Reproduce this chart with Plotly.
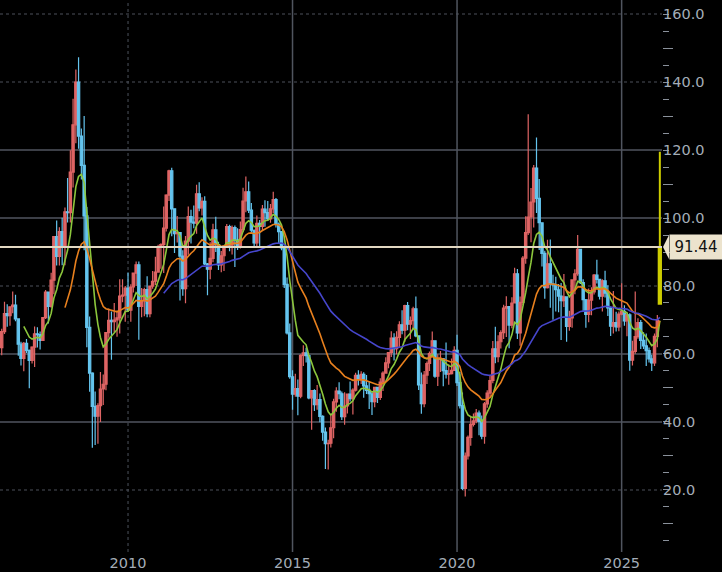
import pandas as pd
import plotly.graph_objects as go

# ---------------- data (monthly candles, Mar 2006 - Mar 2026) ----------------
start_month = "2006-03-01"

opens = [
    61.9, 66.6, 71.9, 71.3, 73.9, 74.4, 70.3, 62.9, 58.7, 63.1,
    61.05, 58.1, 62.0, 65.9, 65.7, 64.0, 70.7, 78.2, 74.0, 81.7, 94.5, 88.7,
    96.0, 91.75, 101.8, 101.6, 113.5, 127.4, 140.0, 124.1, 115.5, 100.6, 67.8, 54.4,
    44.6, 41.7, 44.8, 49.7, 51.1, 66.3, 69.9, 69.5, 70.0, 70.6, 77.0, 77.3,
    79.4, 72.9, 79.7, 83.8, 86.2, 74.0, 75.6, 78.95, 71.9, 79.97, 81.4, 84.1,
    91.4, 92.2, 97.0, 106.7, 113.9, 102.7, 95.4, 95.7, 88.8, 79.2, 93.2, 100.4,
    98.8, 98.5, 107.1, 103.0, 104.9, 86.5, 84.96, 88.1, 96.5, 92.2, 86.2, 88.9,
    91.8, 97.5, 92.05, 97.2, 93.5, 91.97, 96.6, 105.0, 107.7, 102.3, 96.4, 92.7,
    98.4, 97.5, 102.6, 101.6, 99.7, 102.7, 105.4, 98.2, 96.0, 91.2, 80.5, 66.2,
    53.3, 48.2, 49.8, 47.6, 59.6, 60.3, 59.5, 47.1, 49.2, 45.1, 46.6, 41.65,
    37.04, 33.6, 33.75, 38.3, 45.9, 49.1, 48.3, 41.6, 44.7, 48.2, 46.9, 49.4,
    53.7, 52.8, 54.0, 50.6, 49.3, 48.3, 46.0, 50.2, 47.2, 51.7, 54.4, 57.4,
    60.4, 64.7, 61.6, 64.9, 68.6, 67.0, 74.2, 68.8, 69.8, 73.25, 65.3, 50.9,
    45.4, 53.8, 57.2, 60.1, 63.9, 53.5, 58.5, 58.6, 55.1, 54.1, 54.2, 55.2,
    61.1, 51.6, 44.8, 20.5, 30.0, 35.5, 39.3, 40.3, 42.6, 40.2, 35.8, 45.3,
    48.5, 52.2, 61.5, 59.2, 63.6, 66.3, 73.5, 73.95, 68.5, 75.0, 83.6, 66.2,
    75.2, 88.2, 95.7, 100.3, 104.7, 114.7, 105.8, 98.6, 89.6, 79.5, 86.5, 80.6,
    80.3, 78.9, 77.05, 75.7, 76.8, 68.1, 70.6, 81.8, 83.6, 90.8, 81.0, 75.96,
    71.65, 75.85, 78.26, 83.17, 81.93, 76.99, 81.54, 77.91, 73.55, 68.17, 69.26, 68.0,
    71.72, 72.53, 69.76, 71.48, 58.21, 60.79, 65.11, 69.26, 64.01, 62.37, 60.98, 58.55,
    57.4, 65.2, 74.8,
]
highs = [
    67.4, 75.4, 74.6, 74.0, 78.4, 77.4, 70.5, 63.6, 63.5, 64.4,
    61.3, 62.3, 68.1, 67.9, 66.6, 70.8, 78.8, 78.3, 83.9, 94.7, 99.3, 97.3,
    100.1, 103.1, 111.8, 119.9, 135.1, 143.7, 147.3, 126.3, 130.0, 103.2, 71.0, 54.6,
    49.0, 45.5, 54.7, 54.0, 66.5, 73.4, 72.5, 75.0, 72.8, 82.0, 82.0, 80.0,
    83.95, 80.5, 83.9, 87.2, 87.2, 79.4, 79.5, 82.9, 80.1, 84.4, 88.6, 92.1,
    92.6, 103.4, 106.95, 114.2, 114.8, 102.7, 100.6, 95.7, 90.5, 94.7, 103.4, 102.4,
    103.7, 109.8, 110.55, 106.1, 106.4, 86.8, 92.9, 98.3, 100.4, 93.0, 90.3, 92.0,
    98.2, 98.0, 97.8, 97.8, 97.0, 99.0, 108.9, 112.2, 110.7, 104.4, 96.6, 100.75,
    99.4, 103.8, 105.2, 104.99, 104.1, 107.7, 105.9, 98.7, 96.0, 91.6, 82.5, 69.0,
    55.2, 54.2, 52.5, 59.9, 62.6, 61.8, 59.7, 49.3, 49.6, 50.9, 48.4, 42.0,
    38.4, 34.8, 41.9, 46.8, 50.2, 51.7, 49.0, 48.75, 48.4, 51.9, 49.9, 54.5,
    55.2, 54.9, 54.6, 53.8, 52.0, 49.0, 50.4, 50.4, 52.9, 54.9, 59.05, 60.5,
    66.7, 66.1, 66.7, 69.6, 72.9, 74.5, 75.3, 71.0, 73.9, 76.9, 65.4, 54.55,
    55.0, 57.8, 60.7, 66.6, 63.9, 59.9, 60.9, 58.8, 63.4, 57.0, 58.7, 62.3,
    65.65, 54.7, 48.7, 31.0, 36.0, 41.6, 42.5, 43.8, 43.4, 41.9, 45.9, 49.3,
    53.9, 63.8, 67.98, 65.5, 67.0, 74.45, 76.98, 74.0, 76.7, 85.4, 84.97, 76.9,
    88.8, 100.5, 130.5, 108.8, 115.6, 123.7, 111.5, 98.7, 90.4, 93.6, 93.7, 83.3,
    82.7, 80.6, 80.9, 83.5, 77.0, 72.7, 82.0, 84.9, 95.0, 90.9, 82.0, 76.2,
    79.3, 79.6, 83.5, 87.7, 82.1, 82.0, 84.5, 80.2, 74.0, 78.5, 72.4, 72.5,
    80.8, 74.3, 71.9, 72.0, 63.9, 78.4, 70.5, 70.0, 66.4, 66.0, 61.9, 59.8,
    66.0, 71.5, 119.5,
]
lows = [
    59.6, 65.9, 68.0, 68.3, 72.0, 69.6, 59.5, 56.6, 54.9, 60.3,
    49.9, 57.2, 56.2, 61.9, 61.3, 64.0, 70.3, 69.0, 73.6, 77.6, 86.0, 86.0,
    86.1, 86.1, 98.7, 98.65, 109.0, 122.0, 120.4, 111.3, 90.5, 62.0, 48.9, 32.4,
    33.2, 33.6, 40.0, 45.0, 49.3, 64.8, 58.3, 66.4, 65.1, 66.0, 75.2, 69.5,
    72.4, 69.5, 78.1, 80.0, 64.2, 70.8, 71.1, 70.8, 70.8, 79.2, 80.3, 84.0,
    85.1, 83.85, 96.0, 105.0, 94.6, 89.7, 92.8, 75.7, 77.1, 74.95, 89.2, 92.5,
    97.0, 95.4, 102.0, 100.7, 86.2, 77.3, 82.0, 87.0, 90.0, 84.7, 84.05, 84.4,
    91.3, 90.2, 89.3, 85.6, 90.6, 91.0, 95.9, 101.7, 101.5, 95.8, 91.8, 91.8,
    91.2, 96.2, 97.4, 99.2, 98.6, 101.5, 97.2, 92.5, 90.5, 79.4, 65.7, 52.7,
    43.6, 47.4, 42.0, 47.0, 56.5, 57.5, 46.7, 37.75, 43.2, 43.6, 39.9, 34.5,
    26.2, 26.05, 32.5, 35.2, 43.0, 46.7, 40.6, 39.2, 42.5, 46.0, 42.2, 49.0,
    50.7, 51.2, 47.1, 48.2, 43.8, 42.05, 44.3, 45.6, 46.5, 49.1, 54.2, 55.8,
    59.1, 58.1, 59.95, 62.0, 65.8, 63.6, 67.0, 64.4, 66.95, 64.9, 49.4, 42.4,
    44.35, 51.2, 55.0, 59.9, 53.0, 50.6, 54.7, 50.5, 52.8, 50.99, 54.0, 55.1,
    50.6, 44.0, 20.0, 18.1, 29.0, 33.0, 38.7, 39.6, 36.1, 34.9, 33.6, 44.2,
    47.2, 51.4, 57.3, 57.6, 61.6, 64.4, 65.0, 61.7, 67.6, 74.96, 64.4, 62.4,
    74.3, 86.55, 95.0, 92.9, 97.2, 101.5, 90.6, 85.7, 76.25, 79.3, 73.6, 70.1,
    72.5, 72.3, 64.1, 73.8, 63.6, 66.8, 67.7, 77.6, 83.0, 80.6, 72.4, 67.7,
    69.3, 71.4, 77.5, 80.7, 76.0, 72.5, 76.6, 71.2, 65.3, 66.0, 66.6, 66.7,
    71.4, 68.3, 65.2, 55.1, 56.6, 60.1, 64.5, 61.5, 61.5, 56.5, 57.5, 55.0,
    56.5, 62.0, 74.5,
]
closes = [
    66.6, 71.9, 71.3, 73.9, 74.4, 70.3, 62.9, 58.7, 63.1, 61.05,
    58.1, 62.0, 65.9, 65.7, 64.0, 70.7, 78.2, 74.0, 81.7, 94.5, 88.7, 96.0,
    91.75, 101.8, 101.6, 113.5, 127.4, 140.0, 124.1, 115.5, 100.6, 67.8, 54.4, 44.6,
    41.7, 44.8, 49.7, 51.1, 66.3, 69.9, 69.5, 70.0, 70.6, 77.0, 77.3, 79.4,
    72.9, 79.7, 83.8, 86.2, 74.0, 75.6, 78.95, 71.9, 79.97, 81.4, 84.1, 91.4,
    92.2, 97.0, 106.7, 113.9, 102.7, 95.4, 95.7, 88.8, 79.2, 93.2, 100.4, 98.8,
    98.5, 107.1, 103.0, 104.9, 86.5, 84.96, 88.1, 96.5, 92.2, 86.2, 88.9, 91.8,
    97.5, 92.05, 97.2, 93.5, 91.97, 96.6, 105.0, 107.7, 102.3, 96.4, 92.7, 98.4,
    97.5, 102.6, 101.6, 99.7, 102.7, 105.4, 98.2, 96.0, 91.2, 80.5, 66.2, 53.3,
    48.2, 49.8, 47.6, 59.6, 60.3, 59.5, 47.1, 49.2, 45.1, 46.6, 41.65, 37.04,
    33.6, 33.75, 38.3, 45.9, 49.1, 48.3, 41.6, 44.7, 48.2, 46.9, 49.4, 53.7,
    52.8, 54.0, 50.6, 49.3, 48.3, 46.0, 50.2, 47.2, 51.7, 54.4, 57.4, 60.4,
    64.7, 61.6, 64.9, 68.6, 67.0, 74.2, 68.8, 69.8, 73.25, 65.3, 50.9, 45.4,
    53.8, 57.2, 60.1, 63.9, 53.5, 58.5, 58.6, 55.1, 54.1, 54.2, 55.2, 61.1,
    51.6, 44.8, 20.5, 30.0, 35.5, 39.3, 40.3, 42.6, 40.2, 35.8, 45.3, 48.5,
    52.2, 61.5, 59.2, 63.6, 66.3, 73.5, 73.95, 68.5, 75.0, 83.6, 66.2, 75.2,
    88.2, 95.7, 100.3, 104.7, 114.7, 105.8, 98.6, 89.6, 79.5, 86.5, 80.6, 80.3,
    78.9, 77.05, 75.7, 76.8, 68.1, 70.6, 81.8, 83.6, 90.8, 81.0, 75.96, 71.65,
    75.85, 78.26, 83.17, 81.93, 76.99, 81.54, 77.91, 73.55, 68.17, 69.26, 68.0, 71.72,
    72.53, 69.76, 71.48, 58.21, 60.79, 65.11, 69.26, 64.01, 62.37, 60.98, 58.55, 57.4,
    65.2, 70.0, 91.44,
]

ma_periods = [9, 24, 60]          # exponential moving averages (months)
ma_colors = ["#8cc63c", "#e8801e", "#4646cc"]

x_tick_years = ["2010", "2015", "2020", "2025"]
y_major_ticks = [20, 40, 60, 80, 100, 120, 140, 160]
y_solid_grid = [40, 60, 100, 120]
y_dotted_grid = [20, 80, 140, 160]
x_solid_grid = ["2015", "2020", "2025"]
x_dotted_grid = ["2010"]
last_price = closes[-1]

# ---------------- figure ----------------
dates = pd.date_range(start_month, periods=len(closes), freq="MS")


def ema(values, n):
    out = [None] * len(values)
    k = 2.0 / (n + 1)
    cur = sum(values[:n]) / n
    out[n - 1] = cur
    for i in range(n, len(values)):
        cur = values[i] * k + cur * (1 - k)
        out[i] = cur
    return out


UP = "#de6464"
DOWN = "#64c4ee"
LABEL = "#a4adb8"
FONT = "DejaVu Sans"
Y_RANGE = [1.76, 164.12]
X_RANGE = ["2006-02-10", "2026-03-25"]

fig = go.Figure()

fig.add_trace(go.Candlestick(
    x=dates[:-1], open=opens[:-1], high=highs[:-1], low=lows[:-1], close=closes[:-1],
    increasing=dict(line=dict(color=UP, width=1.2), fillcolor=UP),
    decreasing=dict(line=dict(color=DOWN, width=1.2), fillcolor=DOWN),
    whiskerwidth=0, hoverinfo="skip", showlegend=False,
))
fig.add_trace(go.Candlestick(
    x=dates[-1:], open=opens[-1:], high=highs[-1:], low=lows[-1:], close=closes[-1:],
    increasing=dict(line=dict(color="#cccc00", width=2), fillcolor="#cccc00"),
    decreasing=dict(line=dict(color="#cccc00", width=2), fillcolor="#cccc00"),
    whiskerwidth=0, hoverinfo="skip", showlegend=False,
))

for p, c in zip(ma_periods, ma_colors):
    fig.add_trace(go.Scatter(x=dates, y=ema(closes, p), mode="lines",
                             line=dict(color=c, width=1.6),
                             hoverinfo="skip", showlegend=False))

# dummy trace for tick overlay axis
fig.add_trace(go.Scatter(x=[dates[0]], y=[None], yaxis="y2", showlegend=False,
                         hoverinfo="skip"))

shapes = []
for v in y_solid_grid:
    shapes.append(dict(type="line", xref="paper", x0=0, x1=1, yref="y", y0=v, y1=v,
                       line=dict(color="#50555f", width=1.5), layer="below"))
for v in y_dotted_grid:
    shapes.append(dict(type="line", xref="paper", x0=0, x1=1, yref="y", y0=v, y1=v,
                       line=dict(color="#4c515b", width=1, dash="dot"), layer="below"))
for yr in x_solid_grid:
    shapes.append(dict(type="line", xref="x", x0=f"{yr}-01-01", x1=f"{yr}-01-01",
                       yref="paper", y0=0, y1=1,
                       line=dict(color="#50555f", width=1.5), layer="below"))
for yr in x_dotted_grid:
    shapes.append(dict(type="line", xref="x", x0=f"{yr}-01-01", x1=f"{yr}-01-01",
                       yref="paper", y0=0, y1=1,
                       line=dict(color="#4c515b", width=1, dash="dot"), layer="below"))

# current price line
shapes.append(dict(type="line", xref="paper", x0=0, x1=1, yref="y", y0=last_price,
                   y1=last_price, line=dict(color="#e2d8c2", width=2), layer="above"))

# price label pointer (triangle) in paper coords
plot_w, plot_h = 662, 552
yp = (last_price - Y_RANGE[0]) / (Y_RANGE[1] - Y_RANGE[0])
tip_x = 663 / plot_w
base_x = 669 / plot_w
hh = 12 / plot_h
shapes.append(dict(type="path", xref="paper", yref="paper",
                   path=f"M {tip_x},{yp} L {base_x},{yp + hh} L {base_x},{yp - hh} Z",
                   fillcolor="#ece3cd", line=dict(width=0), layer="above"))

fig.update_layout(
    width=722, height=572,
    margin=dict(l=0, r=60, t=0, b=20),
    paper_bgcolor="black", plot_bgcolor="black",
    showlegend=False,
    boxgap=0.1, boxgroupgap=0,
    shapes=shapes,
    xaxis=dict(
        type="date", range=X_RANGE, rangeslider=dict(visible=False),
        showgrid=False, zeroline=False, showline=False,
        tickvals=[f"{y}-01-01" for y in x_tick_years], ticktext=x_tick_years,
        ticks="", tickfont=dict(family=FONT, size=14.5, color=LABEL),
    ),
    yaxis=dict(
        side="right", range=Y_RANGE, showgrid=False, zeroline=False, showline=False,
        tickvals=y_major_ticks, tickformat=".1f", ticks="",
        tickfont=dict(family=FONT, size=14.5, color=LABEL),
        minor=dict(dtick=5, tick0=0, ticks="outside", ticklen=6,
                   tickcolor="#8a919b", tickwidth=1, showgrid=False),
    ),
    yaxis2=dict(
        overlaying="y", side="right", range=Y_RANGE, showgrid=False, zeroline=False,
        tickvals=[10, 30, 50, 70, 90, 110, 130, 150], ticks="outside", ticklen=10,
        tickcolor="#8a919b", tickwidth=1, showticklabels=False, showline=False,
    ),
    annotations=[dict(
        x=base_x, xref="paper", y=last_price, yref="y", xanchor="left", yanchor="middle",
        text=f"{last_price:.2f}", showarrow=False, bgcolor="#ece3cd",
        font=dict(family=FONT, size=15, color="#111111"),
        width=48, height=20, borderpad=2, align="center",
    )],
)

fig.write_html(
    "out.html",
    config={"displayModeBar": False},
    post_script="document.body.style.margin='0px';document.body.style.overflow='hidden';",
)
